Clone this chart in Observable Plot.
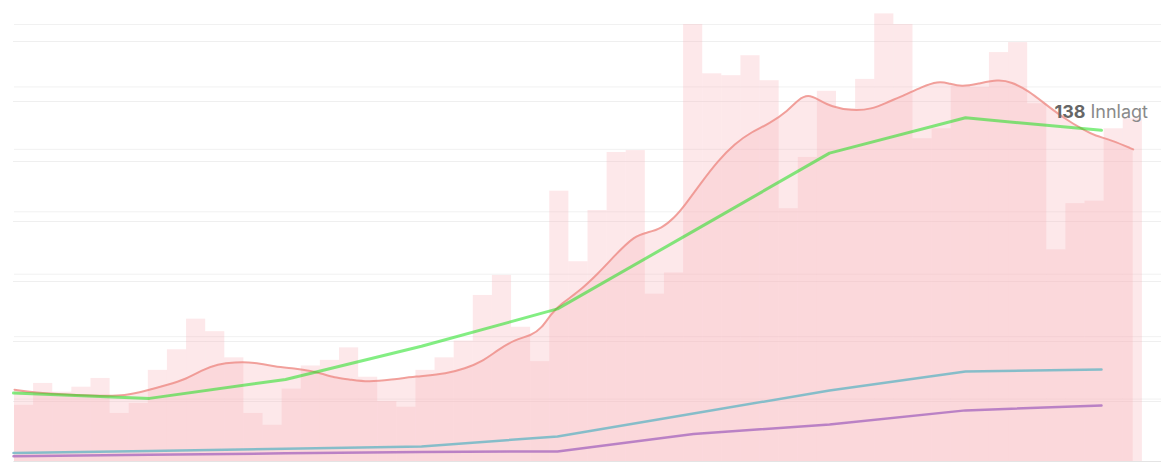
<!DOCTYPE html>
<html><head><meta charset="utf-8">
<script src="https://cdn.jsdelivr.net/npm/d3@7"></script>
<script src="https://cdn.jsdelivr.net/npm/@observablehq/plot@0.6"></script>
<style>
html,body{margin:0;padding:0;background:#fff;}
#chart{position:relative;width:1161px;height:473px;overflow:hidden;}
#chart svg{position:absolute;left:0;top:0;}
</style></head><body><div id="chart"></div>
<script>
// Daily values (bars)
const dailyCases = [90,125,111,119,133,77,93,146,179,228,208,166,77,58,116,153,162,182,135,96,87,146,166,193,266,298,215,160,433,320,402,495,498,268,302,700,621,618,650,610,405,487,593,565,612,717,700,517,533,601,599,655,671,573,339,413,417,533,549];
// Smoothed average (red line) – day position and value
const avgDay = [0,1.05,2.79,4.54,5.76,6.98,8.03,8.9,9.77,10.64,11.51,12.56,13.61,14.65,15.53,16.05,16.75,17.45,18.49,19.71,20.93,22.68,23.55,24.42,25.3,26.16,27.04,27.56,28.08,28.61,29.48,30.53,31.4,32.44,33.14,33.84,34.54,35.06,35.93,36.81,37.68,38.55,39.49,40.47,41.0,41.52,42.04,42.74,43.79,44.83,45.7,46.57,47.45,48.32,48.84,49.54,50.41,51.46,52.15,53.03,53.9,54.94,55.99,56.51,57.38,58.52];
const avgValue = [115,110,107,105,105,114,123,131,146,156,159,159,152,149,145,141,134,132,127,131,136,141,149,159,179,195,202,213,237,253,271,301,330,362,367,373,391,410,447,482,509,528,541,562,580,588,580,568,562,564,576,587,600,609,606,600,605,612,608,594,573,549,530,522,515,500];
// Weekly series (lines)
const weeks = [0,1,2,3,4,5,6,7,8];
const innlagt = [28.5,26.3,34.2,48,63.6,96,128.5,143.2,138];
const blueSeries = [3.5,4.4,5.3,6.3,10.4,20,29.6,37.5,38.3];
const purpleSeries = [2.2,2.8,3.4,4.0,4.2,11.5,15.4,21.3,23.3];
// Ticks
const caseTicks = [0,100,200,300,400,500,600,700];
const lineTicks = [0,25,50,75,100,125,150,175];
const labelNumber = "138";
const labelWord = "Innlagt";

const W = 1161, H = 473;
const bars = dailyCases.map((v, i) => ({day: i, value: v}));
const avg = avgDay.map((d, i) => ({day: d, value: avgValue[i]}));
const weekly = (arr) => weeks.map((w, i) => ({week: w, value: arr[i]}));
const pink = "rgb(248,179,186)";

const gridB = Plot.plot({
  width: W, height: H, marginLeft: 13, marginRight: 0, marginTop: 41, marginBottom: 12,
  style: {background: "transparent"},
  x: {domain: [0, 1], axis: null},
  y: {domain: [0, 175], axis: null},
  marks: [
    Plot.ruleY(lineTicks, {stroke: "#efefef", strokeWidth: 1})
  ]
});

const plotA = Plot.plot({
  width: W, height: H, marginLeft: 14, marginRight: 0, marginTop: 24, marginBottom: 12,
  style: {background: "transparent"},
  x: {domain: [0, 60], axis: null},
  y: {domain: [0, 700], axis: null},
  marks: [
    Plot.ruleY(caseTicks.filter(t => t > 0), {stroke: "#f1f1f1", strokeWidth: 1}),
    Plot.rectY(bars, {x1: "day", x2: d => d.day + 1, y: "value", fill: pink, fillOpacity: 0.3}),
    Plot.areaY(avg, {x: "day", y: "value", curve: "basis", fill: pink, fillOpacity: 0.3}),
    Plot.lineY(avg, {x: "day", y: "value", curve: "basis", stroke: "#ee8c86", strokeOpacity: 0.8, strokeWidth: 2}),
    Plot.ruleY([0], {stroke: "#e4e4e4", strokeWidth: 1})
  ]
});

const plotB = Plot.plot({
  width: W, height: H, marginLeft: 13, marginRight: 60, marginTop: 41, marginBottom: 12,
  style: {background: "transparent", fontFamily: "Inter, 'Noto Sans', sans-serif"},
  x: {domain: [0, 8], axis: null},
  y: {domain: [0, 175], axis: null},
  marks: [
    Plot.lineY(weekly(purpleSeries), {x: "week", y: "value", stroke: "#b378c2", strokeOpacity: 0.9, strokeWidth: 2.5}),
    Plot.lineY(weekly(blueSeries), {x: "week", y: "value", stroke: "#7fbcc8", strokeOpacity: 0.95, strokeWidth: 2.5}),
    Plot.lineY(weekly(innlagt), {x: "week", y: "value", stroke: "#1ee01e", strokeOpacity: 0.55, strokeWidth: 3}),
    Plot.text([{week: weeks[8], value: innlagt[8]}], {x: "week", y: "value", text: () => labelNumber, textAnchor: "end", dx: -16, dy: -18, fontSize: 18, fontWeight: 700, fill: "#666666"}),
    Plot.text([{week: weeks[8], value: innlagt[8]}], {x: "week", y: "value", text: () => labelWord, textAnchor: "start", dx: -11, dy: -18, fontSize: 18, fill: "#8a8a8a"})
  ]
});

const chart = document.getElementById("chart");
chart.appendChild(gridB);
chart.appendChild(plotA);
chart.appendChild(plotB);
</script>
</body></html>
